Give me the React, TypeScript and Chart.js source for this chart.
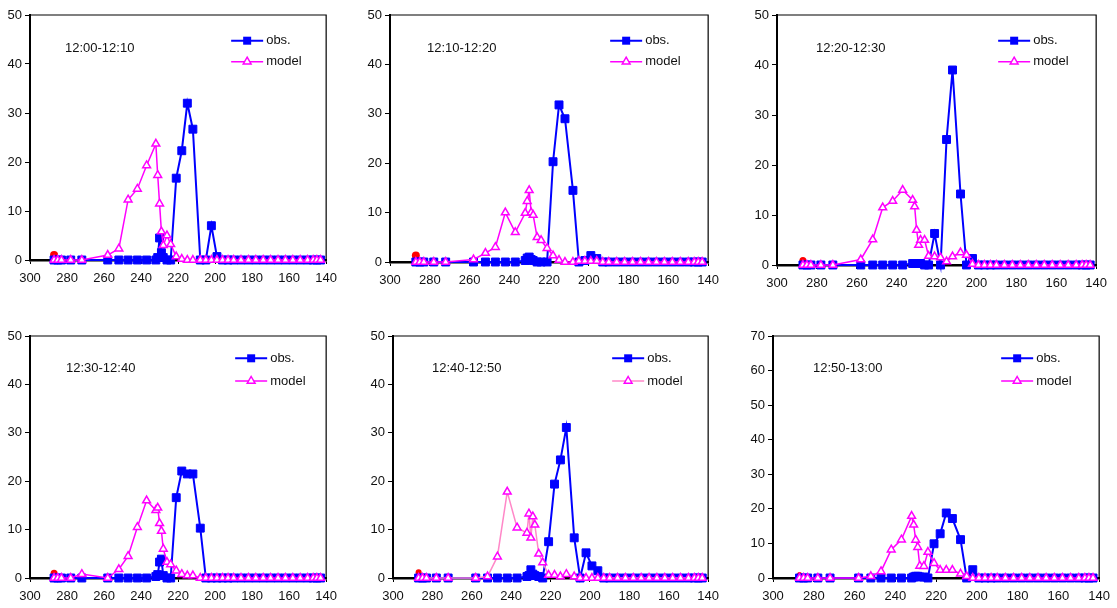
import React, { useEffect, useRef } from 'react';
import { Chart, registerables } from 'chart.js';

Chart.register(...registerables);
Chart.defaults.font.family = '"Liberation Sans", Arial, sans-serif';

// shared x positions (reversed axis 300 -> 140)
const X = [
  287, 285, 283, 278, 272,
  258, 252, 247, 242, 237,
  232, 231, 230, 229, 228,
  226, 224, 221, 218, 215,
  212, 208, 205, 202, 199,
  196, 193, 190, 186, 182,
  178, 174, 170, 166, 162,
  158, 154, 150, 147, 145,
  143,
];

const OBS_1 = [
  0, 0, 0, 0, 0,
  0, 0, 0, 0, 0,
  0, 0.5, 4.5, 1.5, 0.5,
  0, 0, 16.7, 22.3, 32,
  26.7, 0, 0, 7, 0.7,
  0, 0, 0, 0, 0,
  0, 0, 0, 0, 0,
  0, 0, 0, 0, 0,
  0,
];
const MODEL_1 = [
  0, 0, 0, 0, 0,
  1, 2.3, 12.3, 14.5, 19.3,
  23.7, 17.3, 11.5, 5.8, 3,
  5, 3.2, 0.7, 0.2, 0,
  0, 0, 0, 0, 0,
  0, 0, 0, 0, 0,
  0, 0, 0, 0, 0,
  0, 0, 0, 0, 0,
  0,
];
const OBS_2 = [
  0, 0, 0, 0, 0,
  0, 0, 0, 0, 0,
  0.3, 0.8, 1, 0.5, 0.3,
  0, 0, 0, 20.3, 31.8,
  29, 14.5, 0, 0.3, 1.3,
  0.7, 0, 0, 0, 0,
  0, 0, 0, 0, 0,
  0, 0, 0, 0, 0,
  0,
];
const MODEL_2 = [
  0, 0, 0, 0, 0,
  0.5, 1.8, 3, 10, 6,
  9.9, 12.3, 14.5, 10, 9.5,
  5, 4.4, 2.8, 1.3, 0.4,
  0, 0, 0.2, 0.2, 0.2,
  0.2, 0, 0, 0, 0,
  0, 0, 0, 0, 0,
  0, 0, 0, 0, 0,
  0,
];
const OBS_3 = [
  0, 0, 0, 0, 0,
  0, 0, 0, 0, 0,
  0.3, 0.3, 0.3, 0.3, 0.3,
  0, 0, 6.3, 0, 25.1,
  39, 14.2, 0, 1.3, 0,
  0, 0, 0, 0, 0,
  0, 0, 0, 0, 0,
  0, 0, 0, 0, 0,
  0,
];
const MODEL_3 = [
  0, 0, 0, 0, 0,
  1.1, 5.1, 11.5, 12.8, 15,
  13, 11.7, 7, 4, 5,
  5, 1.8, 1.7, 1.5, 0.7,
  1.7, 2.5, 2, 0.2, 0,
  0, 0, 0, 0, 0,
  0, 0, 0, 0, 0,
  0, 0, 0, 0, 0,
  0,
];
const OBS_4 = [
  0, 0, 0, 0, 0,
  0, 0, 0, 0, 0,
  0.3, 0.7, 3.3, 3.9, 0.5,
  0, 0, 16.6, 22.1, 21.5,
  21.5, 10.3, 0, 0, 0,
  0, 0, 0, 0, 0,
  0, 0, 0, 0, 0,
  0, 0, 0, 0, 0,
  0,
];
const MODEL_4 = [
  0, 0, 0, 0, 0.8,
  0, 1.8, 4.5, 10.5, 16,
  14, 14.5, 11.3, 9.7, 6,
  3.3, 2.8, 1.5, 0.8, 0.5,
  0.5, 0, 0, 0, 0,
  0, 0, 0, 0, 0,
  0, 0, 0, 0, 0,
  0, 0, 0, 0, 0,
  0,
];
const OBS_5 = [
  0, 0, 0, 0, 0,
  0, 0, 0, 0, 0,
  0.3, 0.5, 1.7, 0.8, 0.5,
  0.3, 0, 7.5, 19.4, 24.4,
  31.1, 8.3, 0, 5.2, 2.5,
  1.5, 0, 0, 0, 0,
  0, 0, 0, 0, 0,
  0, 0, 0, 0, 0,
  0,
];
const MODEL_5 = [
  0, 0, 0, 0, 0,
  0, 0.3, 4.4, 17.8, 10.4,
  9.3, 13.3, 8.3, 12.7, 11,
  5, 3.2, 0.6, 0.6, 0.3,
  0.8, 0.3, 0, 0, 0,
  0, 0, 0, 0, 0,
  0, 0, 0, 0, 0,
  0, 0, 0, 0, 0,
  0,
];
const OBS_6 = [
  0, 0, 0, 0, 0,
  0, 0, 0, 0, 0,
  0, 0.3, 0.5, 0.5, 0.3,
  0.3, 0, 9.9, 12.8, 18.8,
  17.2, 11.1, 0, 2.4, 0,
  0, 0, 0, 0, 0,
  0, 0, 0, 0, 0,
  0, 0, 0, 0, 0,
  0,
];
const MODEL_6 = [
  0, 0, 0, 0, 0,
  0, 0.5, 1.9, 8.2, 11.1,
  17.9, 15.4, 11, 8.9, 3.5,
  3.4, 7.5, 4.3, 2.3, 2.3,
  2.3, 1.2, 0.5, 0, 0,
  0, 0, 0, 0, 0,
  0, 0, 0, 0, 0,
  0, 0, 0, 0, 0,
  0,
];

const OBS = [OBS_1, OBS_2, OBS_3, OBS_4, OBS_5, OBS_6];
const MODEL = [MODEL_1, MODEL_2, MODEL_3, MODEL_4, MODEL_5, MODEL_6];
const START_X = 287;
const START_Y = [1, 1.3, 0.9, 1, 1.2, 1];
const PERIODS = ['12:00-12:10', '12:10-12:20', '12:20-12:30', '12:30-12:40', '12:40-12:50', '12:50-13:00'];
const Y_MAX = [50, 50, 50, 50, 50, 70];
const SERIES_NAMES = ['obs.', 'model'];

// layout (plot-area rectangles in page pixels)
const PANELS = [
  { L: 30, R: 330, T: 15, B: 260, lgX: 60, lgY: [25.7, 46.7], tx: 35, ty: 33.3, redR: 4, modelLine: '#FF00FF' },
  { L: 390, R: 712, T: 15, B: 262, lgX: 63, lgY: [25.7, 46.7], tx: 37, ty: 33.3, redR: 4, modelLine: '#FF00FF' },
  { L: 777, R: 1100, T: 15, B: 265, lgX: 63, lgY: [25.7, 46.7], tx: 39, ty: 33.3, redR: 3.5, modelLine: '#FF00FF' },
  { L: 30, R: 330, T: 336, B: 578, lgX: 56, lgY: [22.3, 45], tx: 36, ty: 32.3, redR: 3.5, modelLine: '#FF00FF' },
  { L: 393, R: 712, T: 336, B: 578, lgX: 61, lgY: [22.3, 45], tx: 39, ty: 32.3, redR: 3, modelLine: '#FF88C8' },
  { L: 773, R: 1103, T: 336, B: 578, lgX: 63, lgY: [22.3, 45], tx: 40, ty: 32.3, redR: 2.5, modelLine: '#FF00FF' },
];
const AXIS_W = 34;
const PAD_T = 15;
const PAD_R = 14;
const AXIS_H = 32;

const framePlugin = {
  id: 'frame',
  beforeDatasetsDraw(chart: any) {
    const { ctx, chartArea: a } = chart;
    ctx.save();
    ctx.strokeStyle = '#000';
    ctx.lineWidth = 1.2;
    ctx.beginPath();
    ctx.moveTo(a.left, a.top);
    ctx.lineTo(a.right, a.top);
    ctx.lineTo(a.right, a.bottom);
    ctx.stroke();
    ctx.restore();
  },
  afterDatasetsDraw(chart: any, _args: any, opts: any) {
    const { ctx, chartArea: a } = chart;
    ctx.save();
    ctx.font = '13px "Liberation Sans", Arial, sans-serif';
    ctx.fillStyle = '#111';
    ctx.textBaseline = 'middle';
    ctx.textAlign = 'left';
    ctx.fillText(opts.period, a.left + opts.tx, a.top + opts.ty);

    const tx = a.right - opts.lgX;
    const x1 = tx - 35;
    const x2 = tx - 3;
    const xm = (x1 + x2) / 2;
    // obs.
    let y = a.top + opts.lgY[0];
    ctx.strokeStyle = '#0000FF';
    ctx.lineWidth = 2;
    ctx.beginPath();
    ctx.moveTo(x1, y);
    ctx.lineTo(x2, y);
    ctx.stroke();
    ctx.fillStyle = '#0000FF';
    ctx.fillRect(xm - 4, y - 4, 8, 8);
    ctx.fillStyle = '#111';
    ctx.fillText(opts.names[0], tx, y);
    // model
    y = a.top + opts.lgY[1];
    ctx.strokeStyle = opts.modelLine;
    ctx.lineWidth = 1.5;
    ctx.beginPath();
    ctx.moveTo(x1, y);
    ctx.lineTo(x2, y);
    ctx.stroke();
    const r = 4.5;
    ctx.beginPath();
    ctx.moveTo(xm, y - r);
    ctx.lineTo(xm + r * 0.866, y + r * 0.5);
    ctx.lineTo(xm - r * 0.866, y + r * 0.5);
    ctx.closePath();
    ctx.fillStyle = '#fff';
    ctx.fill();
    ctx.strokeStyle = '#FF00FF';
    ctx.lineWidth = 1.5;
    ctx.stroke();
    ctx.fillStyle = '#111';
    ctx.fillText(opts.names[1], tx, y);
    ctx.restore();
  },
};

function Panel({ idx }: { idx: number }) {
  const ref = useRef<HTMLCanvasElement | null>(null);
  const p = PANELS[idx];
  const w = p.R - p.L + AXIS_W + PAD_R;
  const h = p.B - p.T + PAD_T + AXIS_H;

  useEffect(() => {
    if (!ref.current) return;
    const pts = (arr: number[]) => X.map((x, i) => ({ x, y: arr[i] }));
    const chart = new Chart(ref.current, {
      type: 'line',
      data: {
        datasets: [
          {
            label: SERIES_NAMES[1],
            data: pts(MODEL[idx]),
            borderColor: p.modelLine,
            borderWidth: 1.5,
            pointStyle: 'triangle',
            pointRadius: 4.5,
            pointBackgroundColor: '#FFFFFF',
            pointBorderColor: '#FF00FF',
            pointBorderWidth: 1.5,
            tension: 0,
            clip: false,
          },
          {
            label: SERIES_NAMES[0],
            data: pts(OBS[idx]),
            borderColor: '#0000FF',
            backgroundColor: '#0000FF',
            borderWidth: 2,
            pointStyle: 'rect',
            pointRadius: 5.6,
            pointBackgroundColor: '#0000FF',
            pointBorderColor: '#0000FF',
            pointBorderWidth: 1,
            tension: 0,
            clip: false,
          },
          {
            label: 'start',
            data: [{ x: START_X, y: START_Y[idx] }],
            showLine: false,
            pointStyle: 'circle',
            pointRadius: p.redR,
            pointBackgroundColor: '#FF0000',
            pointBorderColor: '#FF0000',
            pointBorderWidth: 0,
            clip: false,
          },
        ],
      } as any,
      options: {
        animation: false,
        responsive: false,
        devicePixelRatio: 1,
        layout: { padding: { top: PAD_T, right: PAD_R, left: 0, bottom: 0 } },
        plugins: {
          legend: { display: false },
          tooltip: { enabled: false },
          frame: {
            period: PERIODS[idx],
            tx: p.tx,
            ty: p.ty,
            lgX: p.lgX,
            lgY: p.lgY,
            names: SERIES_NAMES,
            modelLine: p.modelLine,
          },
        } as any,
        scales: {
          x: {
            type: 'linear',
            reverse: true,
            min: 140,
            max: 300,
            afterFit: (s: any) => { s.height = AXIS_H; },
            ticks: { stepSize: 20, color: '#111', font: { size: 13 }, padding: 7, maxRotation: 0, autoSkip: false },
            grid: { drawOnChartArea: false, drawTicks: true, tickLength: 4, color: '#000', lineWidth: 1 },
            border: { display: true, color: '#000', width: 2.5 },
          },
          y: {
            type: 'linear',
            min: 0,
            max: Y_MAX[idx],
            afterFit: (s: any) => { s.width = AXIS_W; },
            ticks: { stepSize: 10, color: '#111', font: { size: 13 }, padding: 3 },
            grid: { drawOnChartArea: false, drawTicks: true, tickLength: 5, color: '#000', lineWidth: 1 },
            border: { display: true, color: '#000', width: 2 },
          },
        } as any,
      },
      plugins: [framePlugin],
    });
    return () => chart.destroy();
  }, [idx]);

  return (
    <canvas
      ref={ref}
      width={w}
      height={h}
      style={{ position: 'absolute', left: p.L - AXIS_W, top: p.T - PAD_T, width: w, height: h }}
    />
  );
}

export default function App() {
  return (
    <div style={{ position: 'absolute', left: 0, top: 0, width: 1117, height: 608, background: '#fff', overflow: 'hidden' }}>
      {PANELS.map((_, i) => (
        <Panel key={i} idx={i} />
      ))}
    </div>
  );
}
